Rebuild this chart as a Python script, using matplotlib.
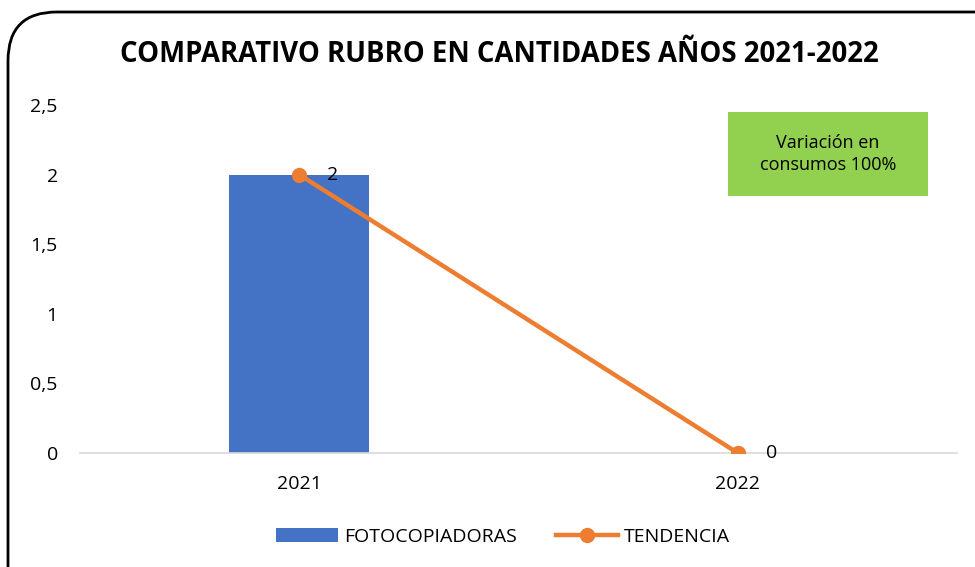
import matplotlib.pyplot as plt
from matplotlib.patches import FancyBboxPatch, Rectangle

plt.rcParams['font.family'] = ['Open Sans', 'DejaVu Sans']

# datos
years = ["2021", "2022"]
fotocopiadoras = [2, 0]
tendencia = [2, 0]

fig = plt.figure(figsize=(9.75, 5.67), dpi=100)
ax = fig.add_axes([80 / 975, 1 - 453 / 567, 877 / 975, 348 / 567])

x = list(range(len(years)))
bars = ax.bar(x, fotocopiadoras, width=0.32, color="#4472C4", label="FOTOCOPIADORAS", zorder=2)
line, = ax.plot(x, tendencia, color="#ED7D31", linewidth=3.2, marker="o", markersize=10,
                label="TENDENCIA", zorder=3)

# etiquetas de datos
for xi, v in zip(x, tendencia):
    ax.annotate(f"{v}", (xi, v), xytext=(20, 0), textcoords="offset points",
                ha="left", va="center", fontsize=14)

ax.set_xlim(-0.5, 1.5)
ax.set_ylim(0, 2.5)
ax.set_yticks([0, 0.5, 1, 1.5, 2, 2.5])
ax.set_yticklabels(["0", "0,5", "1", "1,5", "2", "2,5"])
ax.set_xticks(x)
ax.set_xticklabels(years)
ax.tick_params(axis="both", length=0, labelsize=14)
ax.tick_params(axis="y", pad=16)
ax.tick_params(axis="x", pad=16)
for s in ["top", "right", "left"]:
    ax.spines[s].set_visible(False)
ax.spines["bottom"].set_color("#D9D9D9")
ax.spines["bottom"].set_linewidth(1.2)

fig.suptitle("COMPARATIVO RUBRO EN CANTIDADES AÑOS 2021-2022", x=499 / 975, y=1 - 55 / 567,
             fontsize=19.8, fontweight="bold", va="center")

# cuadro verde
fig.patches.append(Rectangle((728 / 975, 1 - 196 / 567), 200 / 975, 84 / 567,
                             transform=fig.transFigure, facecolor="#92D050",
                             edgecolor="none", zorder=1))
fig.text(828 / 975, 1 - 154 / 567, "Variación en\nconsumos 100%", ha="center", va="center",
         fontsize=13, linespacing=1.35)

# borde redondeado
fig.patches.append(FancyBboxPatch((8 / 975, -0.1), 1.2, 1 - 12 / 567 + 0.1,
                                  boxstyle="round,pad=0,rounding_size=0.05",
                                  transform=fig.transFigure, facecolor="none",
                                  edgecolor="black", linewidth=2, mutation_aspect=975 / 567))

fig.legend([bars, line], ["FOTOCOPIADORAS", "TENDENCIA"], loc="center",
           bbox_to_anchor=(503 / 975, 1 - 537 / 567), ncol=2, frameon=False,
           fontsize=14, handlelength=3.2, columnspacing=2.0, handletextpad=0.3)

fig.savefig("out.png", dpi=100)
